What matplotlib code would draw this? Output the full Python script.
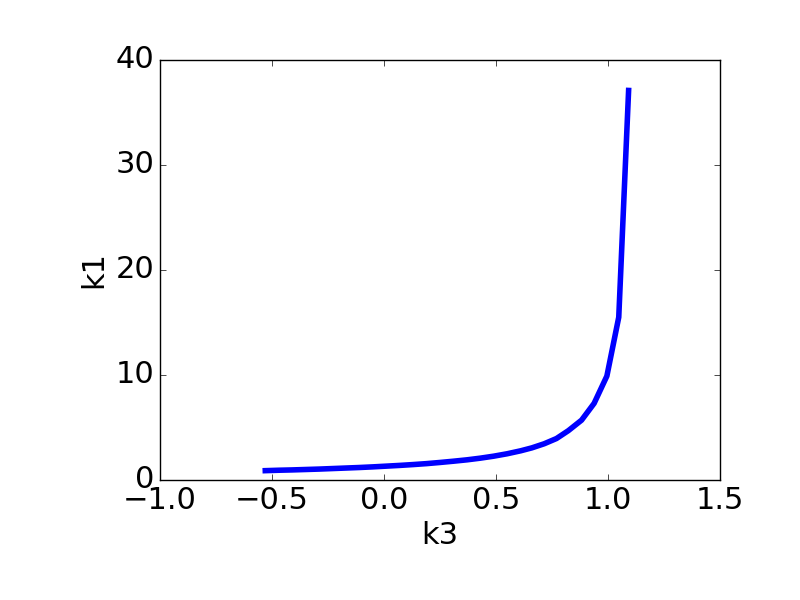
import matplotlib
matplotlib.use('Agg')
import matplotlib.pyplot as plt

plt.style.use('classic')

# k3 vs k1
k3 = [-0.53, -0.47, -0.41, -0.35, -0.29, -0.23, -0.17, -0.11, -0.05,
      0.01, 0.07, 0.13, 0.19, 0.25, 0.31, 0.37, 0.43, 0.49, 0.55,
      0.61, 0.66, 0.715, 0.77, 0.823, 0.882, 0.938, 0.995, 1.048, 1.092]
k1 = [0.89, 0.93, 0.96, 1.0, 1.04, 1.09, 1.14, 1.19, 1.25,
      1.32, 1.39, 1.47, 1.56, 1.67, 1.79, 1.92, 2.08, 2.27, 2.5,
      2.78, 3.06, 3.45, 3.95, 4.7, 5.7, 7.3, 9.9, 15.5, 37.1]

fig = plt.figure(figsize=(8, 6), dpi=100, facecolor='white')
ax = fig.add_subplot(111)
fig.subplots_adjust(left=0.2, right=0.9, bottom=0.2, top=0.9)

ax.plot(k3, k1, color='blue', linewidth=4)
ax.set_xlim(-1.0, 1.5)
ax.set_ylim(0, 40)
ax.set_xticks([-1.0, -0.5, 0.0, 0.5, 1.0, 1.5])
ax.set_yticks([0, 10, 20, 30, 40])
ax.tick_params(labelsize=22)
ax.set_xlabel('k3', fontsize=22)
ax.set_ylabel('k1', fontsize=22)

fig.savefig('out.png', dpi=100, facecolor='white')
